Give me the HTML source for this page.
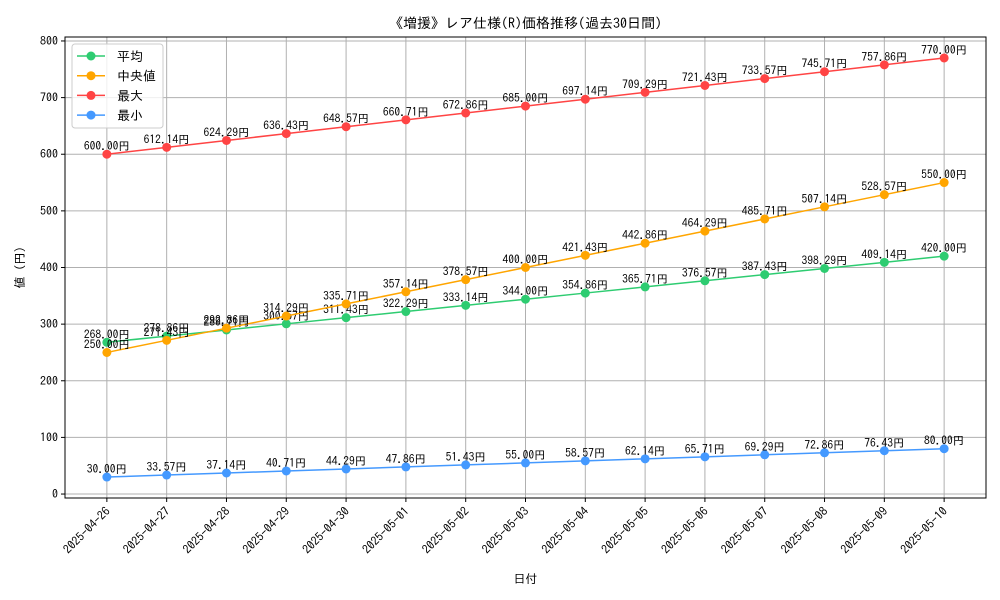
<!DOCTYPE html>
<html><head><meta charset="utf-8"><style>
body{margin:0;background:#fff;}
svg{display:block;font-family:"IPAGothic","Noto Sans CJK JP",sans-serif;}
</style></head><body>
<svg id="c" width="1000" height="600" viewBox="0 0 1000 600"></svg>
<script>
const categories=["2025-04-26","2025-04-27","2025-04-28","2025-04-29","2025-04-30","2025-05-01","2025-05-02","2025-05-03","2025-05-04","2025-05-05","2025-05-06","2025-05-07","2025-05-08","2025-05-09","2025-05-10"];
const avgValues=[268.00,278.86,289.71,300.57,311.43,322.29,333.14,344.00,354.86,365.71,376.57,387.43,398.29,409.14,420.00];
const medianValues=[250.00,271.43,292.86,314.29,335.71,357.14,378.57,400.00,421.43,442.86,464.29,485.71,507.14,528.57,550.00];
const maxValues=[600.00,612.14,624.29,636.43,648.57,660.71,672.86,685.00,697.14,709.29,721.43,733.57,745.71,757.86,770.00];
const minValues=[30.00,33.57,37.14,40.71,44.29,47.86,51.43,55.00,58.57,62.14,65.71,69.29,72.86,76.43,80.00];
const yTicks=[0,100,200,300,400,500,600,700,800];
const seriesNames=["平均","中央値","最大","最小"];
const seriesColors=["#2ecc71","#ffa500","#ff4444","#4499ff"];

const NS="http://www.w3.org/2000/svg";
const svg=document.getElementById('c');
const L=65,R=986,T=37,B=498,yMin=-7,yMax=807;
const x=i=>L+(R-L)*(i+0.7)/(categories.length-1+1.4);
const y=v=>B-(B-T)*(v-yMin)/(yMax-yMin);
function mk(tag,attrs,parent){const e=document.createElementNS(NS,tag);for(const k in attrs)e.setAttribute(k,attrs[k]);(parent||svg).appendChild(e);return e;}

const grid=mk('g',{});


categories.forEach((c,i)=>{
  mk('line',{x1:x(i),x2:x(i),y1:T,y2:B,stroke:'#b0b0b0','stroke-width':1},grid);
  mk('line',{x1:x(i),x2:x(i),y1:B,y2:B+4,stroke:'#000'},grid);
  const t=mk('text',{x:x(i)+4,y:B+14,'font-size':12,'text-anchor':'end',transform:`rotate(-45 ${x(i)+4} ${B+14})`});
  
  
  t.textContent=c;
});
yTicks.forEach(v=>{
  mk('line',{x1:L,x2:R,y1:y(v),y2:y(v),stroke:'#b0b0b0','stroke-width':1},grid);
  mk('line',{x1:L-4,x2:L,y1:y(v),y2:y(v),stroke:'#000'},grid);
  const t=mk('text',{x:L-7,y:y(v)+4,'font-size':12,'text-anchor':'end'});
  
  
  t.textContent=v;
});
const frame=mk('rect',{x:L,y:T,width:R-L,height:B-T,fill:'none',stroke:'#000','stroke-width':1});



const allSeries=[avgValues,medianValues,maxValues,minValues];
const keys=['avg','median','max','min'];
allSeries.forEach((vals,s)=>{
  const g=mk('g',{});
  
  
  mk('polyline',{points:vals.map((v,i)=>x(i)+','+y(v)).join(' '),fill:'none',stroke:seriesColors[s],'stroke-width':1.5},g);
  vals.forEach((v,i)=>{
    const p=mk('circle',{cx:x(i),cy:y(v),r:4.5,fill:seriesColors[s]},g);
    
    
    const t=mk('text',{x:x(i),y:y(v)-4,'font-size':11.5,'text-anchor':'middle'},g);
    
    
    t.textContent=v.toFixed(2)+'円';
  });
});

const lg=mk('g',{});


mk('rect',{x:72,y:44,width:91,height:84,rx:3,fill:'#fff','fill-opacity':0.8,stroke:'#ccc'},lg);
seriesNames.forEach((n,s)=>{
  const yy=56+s*19.7;
  const e=mk('g',{},lg);
  
  
  mk('line',{x1:77,x2:105,y1:yy,y2:yy,stroke:seriesColors[s],'stroke-width':1.5},e);
  mk('circle',{cx:91,cy:yy,r:4.5,fill:seriesColors[s]},e);
  const t=mk('text',{x:117,y:yy+5,'font-size':13},e);
  t.textContent=n;
});

const title=mk('text',{x:(L+R)/2,y:28,'font-size':14,'text-anchor':'middle'});


title.textContent='《増援》レア仕様(R)価格推移(過去30日間)';
const xt=mk('text',{x:(L+R)/2,y:583,'font-size':12,'text-anchor':'middle'});


xt.textContent='日付';
const yt=mk('text',{x:24,y:(T+B)/2,'font-size':12,'text-anchor':'middle',transform:`rotate(-90 24 ${(T+B)/2})`});


yt.textContent='値 (円)';
</script>
</body></html>
